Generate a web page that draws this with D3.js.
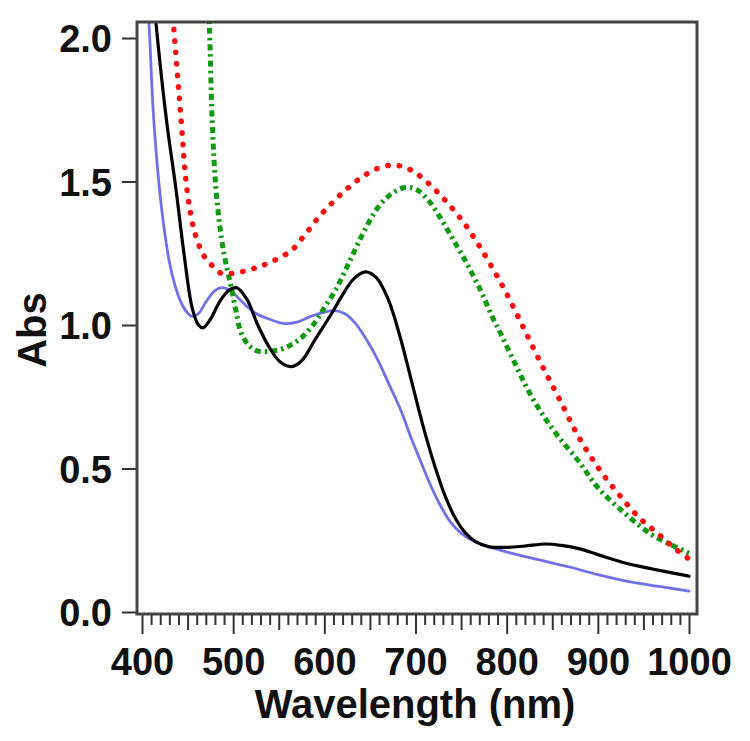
<!DOCTYPE html>
<html><head><meta charset="utf-8">
<script src="https://cdn.jsdelivr.net/npm/d3@7"></script>
<style>
body{margin:0;background:#fff}
text{font-family:"Liberation Sans",Arial,sans-serif;font-weight:bold;fill:#111}
</style></head>
<body><svg id="c" width="750" height="741"></svg>
<script>
// ---- data ----
const wlBlack  = [410,416,427,437,446,455,462,467,475,485,495,504,515,527,540,552,564,575,590,608,620,632,645,657,670,683,696,709,722,733,744,755,766,780,800,820,843,860,880,900,931,960,1000];
const absBlack = [2.25,2.03,1.71,1.48,1.25,1.06,1.00,0.99,1.02,1.08,1.12,1.13,1.09,1.00,0.92,0.87,0.855,0.875,0.95,1.04,1.105,1.16,1.185,1.165,1.09,0.96,0.80,0.64,0.50,0.40,0.325,0.275,0.245,0.228,0.225,0.23,0.237,0.232,0.22,0.20,0.17,0.15,0.125];

const wlBlue  = [404,408,413,421,430,436,442,448,455,462,470,480,488,497,510,525,540,556,570,585,600,611,622,633,646,659,670,683,696,705,714,725,738,750,765,788,805,824,845,871,900,931,965,1000];
const absBlue = [2.25,2.03,1.71,1.42,1.22,1.14,1.085,1.05,1.03,1.04,1.08,1.12,1.13,1.12,1.08,1.04,1.02,1.005,1.01,1.03,1.045,1.05,1.04,1.01,0.95,0.876,0.80,0.71,0.60,0.53,0.46,0.385,0.315,0.275,0.245,0.22,0.205,0.19,0.175,0.155,0.13,0.108,0.09,0.073];

const wlRed  = [432,435,443,449,455,460,468,476,487,500,515,530,545,564,580,595,610,625,641,658,674,688,700,712,725,738,751,762,773,786,799,817,837,857,879,901,923,945,967,985,1000];
const absRed = [2.15,2.03,1.71,1.48,1.36,1.30,1.24,1.21,1.18,1.18,1.19,1.205,1.225,1.26,1.32,1.38,1.43,1.475,1.515,1.545,1.557,1.55,1.53,1.50,1.46,1.415,1.365,1.315,1.26,1.19,1.115,1.00,0.87,0.747,0.61,0.50,0.41,0.33,0.27,0.22,0.185];

const wlGreen  = [472,474,477,481,487,493,498,503,509,517,526,545,560,575,590,600,612,626,641,659,675,690,702,714,727,740,751,762,773,784,795,810,824,840,857,879,901,931,959,980,1000];
const absGreen = [2.15,2.03,1.71,1.48,1.305,1.20,1.13,1.05,0.97,0.93,0.91,0.91,0.925,0.956,1.01,1.06,1.12,1.21,1.31,1.41,1.46,1.48,1.47,1.435,1.375,1.305,1.245,1.18,1.11,1.03,0.96,0.86,0.77,0.685,0.61,0.525,0.43,0.34,0.27,0.235,0.205];

const xTickValues = [400,500,600,700,800,900,1000];
const yTickValues = [0.0,0.5,1.0,1.5,2.0];
const xLabel = "Wavelength (nm)";
const yLabel = "Abs";

// ---- layout ----
const svg = d3.select("#c");
const frame = {l:137, r:697, t:22, b:614};
const x = d3.scaleLinear().domain([400,1000]).range([142,689]);
const y = d3.scaleLinear().domain([0,2]).range([612,38]);

svg.append("clipPath").attr("id","clip").append("rect")
  .attr("x",frame.l).attr("y",frame.t).attr("width",frame.r-frame.l).attr("height",frame.b-frame.t);

// x axis with minor ticks
const minor = d3.range(400,1001,10);
const gx = svg.append("g").attr("transform",`translate(0,${frame.b})`)
  .call(d3.axisBottom(x).tickValues(minor).tickSize(11)
    .tickFormat(d => xTickValues.includes(d) ? String(d) : ""));
gx.select(".domain").remove();
gx.selectAll(".tick line").attr("stroke","#333").attr("stroke-width",2)
  .attr("y2", d => d%100===0 ? 20 : (d%50===0 ? 16 : 11));
gx.selectAll(".tick text").attr("y",34).attr("font-size",38).attr("fill","#111");

// y axis
const gy = svg.append("g").attr("transform",`translate(${frame.l},0)`)
  .call(d3.axisLeft(y).tickValues(yTickValues).tickSize(15).tickPadding(10).tickFormat(d3.format(".1f")));
gy.select(".domain").remove();
gy.selectAll(".tick line").attr("stroke","#333").attr("stroke-width",2);
gy.selectAll(".tick text").attr("font-size",38).attr("fill","#111").attr("dy","0.36em");

// curves
const line = d3.line().x(d=>x(d[0])).y(d=>y(d[1])).curve(d3.curveCatmullRom.alpha(0.5));
const g = svg.append("g").attr("clip-path","url(#clip)");
const series = [
  {wl:wlBlue, ab:absBlue, stroke:"#5757e6", w:2.8, dash:null, cap:"round", op:0.85},
  {wl:wlGreen, ab:absGreen, stroke:"#119911", w:5, dash:"6,4,2.5,4", cap:"butt", op:1},
  {wl:wlRed, ab:absRed, stroke:"#ff1010", w:5.5, dash:"0.5,11", cap:"round", op:1},
  {wl:wlBlack, ab:absBlack, stroke:"#000", w:3.2, dash:null, cap:"round", op:1}
];
series.forEach(s=>{
  g.append("path").datum(s.wl.map((w,i)=>[w,s.ab[i]]))
    .attr("d",line).attr("fill","none").attr("stroke",s.stroke)
    .attr("stroke-width",s.w).attr("stroke-linecap",s.cap)
    .attr("stroke-linejoin","round").attr("stroke-opacity",s.op)
    .attr("stroke-dasharray",s.dash);
});

// frame
svg.append("rect").attr("x",frame.l).attr("y",frame.t)
  .attr("width",frame.r-frame.l).attr("height",frame.b-frame.t)
  .attr("fill","none").attr("stroke","#444").attr("stroke-width",3);

// labels
svg.append("text").attr("x",415).attr("y",718).attr("text-anchor","middle")
  .attr("font-size",40).text(xLabel);
svg.append("text").attr("transform","translate(46,330) rotate(-90)").attr("text-anchor","middle")
  .attr("font-size",40).text(yLabel);
</script></body></html>
